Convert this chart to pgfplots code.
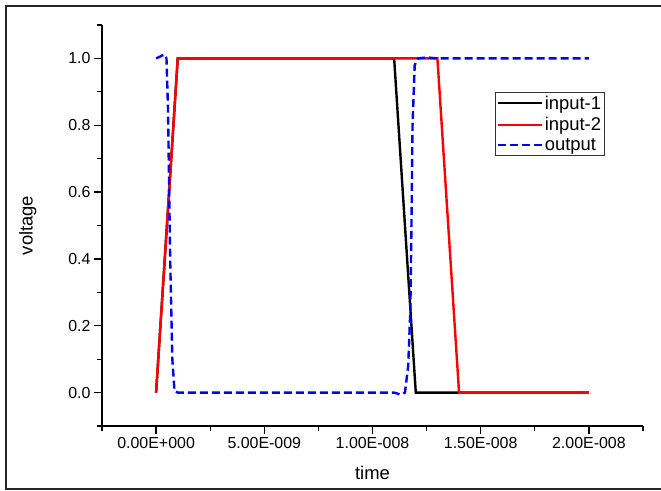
\documentclass[border=0pt]{standalone}
\usepackage{pgfplots}
\pgfplotsset{compat=1.18}
\usepackage{fontspec}
\setmainfont{Liberation Sans}
\newfontfamily\tickfont{Liberation Sans}[Scale=1.6]
\newfontfamily\bigfont{Liberation Sans}[Scale=1.85]
\begin{document}
\begin{tikzpicture}
\begin{axis}[name=ax,scale only axis,width=541bp,height=401bp,
  xmin=-2.5,xmax=22.5,ymin=-0.1,ymax=1.1,
  axis x line*=bottom,axis y line*=left,
  axis line style={line width=1.6bp},
  tick align=outside,major tick length=8bp,minor tick length=4.5bp,
  tick style={line width=1.3bp,black},
  xtick={0,5,10,15,20},
  xticklabels={{\tickfont 0.00E+000},{\tickfont 5.00E-009},{\tickfont 1.00E-008},
    {\tickfont 1.50E-008},{\tickfont 2.00E-008}},
  minor xtick={-2.5,2.5,7.5,12.5,17.5,22.5},
  ytick={0,0.2,0.4,0.6,0.8,1.0},
  yticklabels={{\tickfont 0.0},{\tickfont 0.2},{\tickfont 0.4},{\tickfont 0.6},
    {\tickfont 0.8},{\tickfont 1.0}},
  minor ytick={-0.1,0.1,0.3,0.5,0.7,0.9,1.1},
  tick label style={font=\tickfont},
  xlabel={time},ylabel={voltage},
  label style={font=\bigfont},
  xlabel style={at={(axis description cs:0.5,-0.117)},anchor=center},
  ylabel style={at={(axis description cs:-0.137,0.5)},anchor=center},
  legend style={at={(0.726,0.833)},anchor=north west,font=\bigfont,
    draw=black!80,line width=1bp,inner sep=1.5bp,row sep=2.5bp,
    legend cell align=left},
  legend image code/.code={\draw[#1,line width=2bp] (0bp,0bp) -- (44bp,0bp);},
]
\addplot[black,line width=2.4bp] coordinates {
(0,0) (1,1) (11,1) (12,0) (20,0)};
\addlegendentry{input-1}
\addplot[red,line width=2.4bp] coordinates {
(0,0) (1,1) (13,1) (14,0) (20,0)};
\addlegendentry{input-2}
\addplot[blue,line width=2.4bp,dash pattern=on 8bp off 4bp] coordinates {
(0,1.0) (0.2,1.006) (0.38,1.012) (0.48,1.0) (0.55,0.85) (0.65,0.4)
(0.75,0.1) (0.85,0.005) (1.0,0) (11,0) (11.3,-0.006) (11.5,0.0)
(11.65,0.08) (11.75,0.25) (11.8,0.5) (11.85,0.8) (11.95,0.98)
(12.1,1.0) (12.5,1.003) (13,1.0) (20,1.0)};
\addlegendentry{output}
\end{axis}
\draw[line width=2.2bp,black!85] (570bp,420bp) -- (-96bp,420bp) -- (-96bp,-63bp) -- (570bp,-63bp);
\pgfresetboundingbox
\path (-102bp,-65bp) rectangle (559bp,426bp);
\end{tikzpicture}
\end{document}
